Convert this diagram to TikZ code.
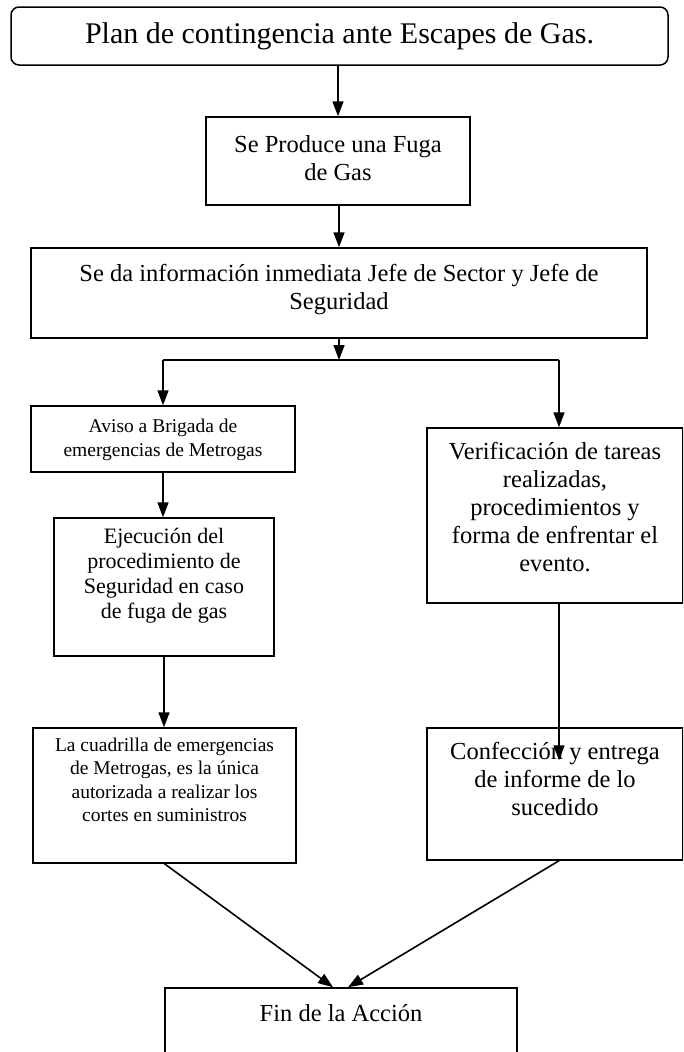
\documentclass[tikz,border=0pt]{standalone}
\usepackage{fontspec}
\setmainfont{Liberation Serif}
\usetikzlibrary{arrows.meta,calc}
\tikzset{
  box/.style={draw=black, line width=1.5pt, rectangle, inner sep=0pt},
  rbox/.style={box, rounded corners=8pt},
  arr/.style={line width=1.6pt, -{Triangle[length=15pt,width=11pt]}},
  conn/.style={line width=1.6pt},
  big/.style={align=center, font=\fontsize{30}{34}\selectfont},
  mid/.style={align=center, font=\fontsize{24.5}{28}\selectfont},
  ejt/.style={align=center, font=\fontsize{22}{25}\selectfont},
  sml/.style={align=center, font=\fontsize{19.5}{23.5}\selectfont},
}
\begin{document}
\begin{tikzpicture}[x=1pt,y=-1pt]
\clip (0,0) rectangle (683,1052);
\fill[white] (0,0) rectangle (683,1052);
% boxes
\node[rbox, minimum width=657pt, minimum height=58pt] (title) at (339.5,36) {};
\node[box, minimum width=264pt, minimum height=88pt] (fuga) at (338,161) {};
\node[box, minimum width=616pt, minimum height=90pt] (info) at (339,293) {};
\node[box, minimum width=264pt, minimum height=66pt] (aviso) at (163,439) {};
\node[box, minimum width=220pt, minimum height=138pt] (ejec) at (164,587) {};
\node[box, minimum width=263pt, minimum height=135pt] (cuad) at (164.5,795.5) {};
\node[box, minimum width=256pt, minimum height=175pt] (verif) at (555,515.5) {};
\node[box, minimum width=256pt, minimum height=132pt] (conf) at (555,794) {};
\node[box, minimum width=352pt, minimum height=82pt] (fin) at (341,1029) {};
% texts
\node[big] (titlet) at (title.center) {Plan de contingencia ante Escapes de Gas.};
\node[mid] (fugat) at (338,158) {Se Produce una Fuga\\de Gas};
\node[mid] (infot) at (339,290) {Se da información inmediata Jefe de Sector y Jefe de\\Seguridad};
\node[sml] (avisot) at (163,440) {Aviso a Brigada de\\emergencias de Metrogas};
\node[ejt] (eject) at (164,576) {Ejecución del\\procedimiento de\\Seguridad en caso\\de fuga de gas};
\node[sml] (cuadt) at (164.5,780) {La cuadrilla de emergencias\\de Metrogas, es la única\\autorizada a realizar los\\cortes en suministros};
\node[mid] (veritt) at (555,507) {Verificación de tareas\\realizadas,\\procedimientos y\\forma de enfrentar el\\evento.};
\node[mid] (conft) at (555,779) {Confección y entrega\\de informe de lo\\sucedido};
\node[mid] (fint) at (341,1013) {Fin de la Acción};
% junction coordinates
\coordinate (j) at (339,360);
\coordinate (jl) at (163,360);
\coordinate (jr) at (559,360);
% connectors
\draw[arr] (title.south -| fuga.north) -- (fuga.north);
\draw[arr] (fuga.south -| info.north) -- (info.north);
\draw[arr] (info.south) -- (j);
\draw[conn] (jl) -- (jr);
\draw[arr] (jl) -- (aviso.north);
\draw[arr] (jr) -- (jr |- verif.north);
\draw[arr] (aviso.south) -- (aviso.south |- ejec.north);
\draw[arr] (ejec.south) -- (ejec.south |- cuad.north);
\draw[arr] (verif.south -| jr) -- ($(conf.north -| jr)+(0,33)$);
\draw[arr] (cuad.south) -- ($(fin.north)+(-8,0)$);
\draw[arr] (conf.south -| jr) -- ($(fin.north)+(7,0)$);
\end{tikzpicture}
\end{document}
